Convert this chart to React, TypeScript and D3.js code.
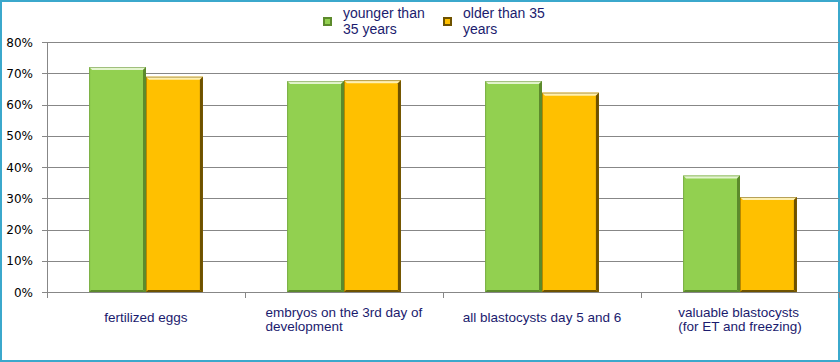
import React, { useRef, useEffect } from "react";
import * as d3 from "d3";

const categories = [
  "fertilized eggs",
  "embryos on the 3rd day of development",
  "all blastocysts day 5 and 6",
  "valuable blastocysts (for ET and freezing)",
];
const categoryLines = [
  ["fertilized eggs"],
  ["embryos on the 3rd day of", "development"],
  ["all blastocysts day 5 and 6"],
  ["valuable blastocysts", "(for ET and freezing)"],
];
const seriesNames = ["younger than 35 years", "older than 35 years"];
const legendLines = [
  ["younger than", "35 years"],
  ["older than 35", "years"],
];
const younger = [72, 67.5, 67.5, 37.3];
const older = [68.9, 67.8, 63.8, 30.4];
const yTicks = [0, 10, 20, 30, 40, 50, 60, 70, 80];

const fills = ["#92d050", "#ffc000"];
const lights = ["#e4f5cf", "#fff0b0"];
const darks = ["#5c8a2c", "#6e5200"];

export default function App() {
  const svgRef = useRef<SVGSVGElement>(null);

  useEffect(() => {
    document.body.style.margin = "0";
    if (!svgRef.current) return;
    const svg = d3.select(svgRef.current);
    svg.selectAll("*").remove();

    const width = 840;
    const height = 362;
    const left = 47;
    const right = 839;
    const top = 42;
    const bottom = 292;
    const font = "'Liberation Sans', Arial, sans-serif";
    const textColor = "#1b1b6e";

    svg.attr("width", width).attr("height", height);

    svg.append("rect")
      .attr("x", 1).attr("y", 1)
      .attr("width", width - 2).attr("height", height - 2)
      .attr("fill", "#fff")
      .attr("stroke", "#3ba8cc")
      .attr("stroke-width", 2);

    const x0 = d3.scaleBand().domain(categories).range([left, right]).padding(0);
    const x1 = d3.scaleBand().domain(seriesNames).range([0, x0.bandwidth()])
      .paddingInner(0).paddingOuter(0.74);
    const y = d3.scaleLinear().domain([0, 80]).range([bottom, top]);

    // Grid
    svg.append("g")
      .selectAll("line")
      .data(yTicks)
      .enter()
      .append("line")
      .attr("x1", left - 5)
      .attr("x2", right)
      .attr("y1", (d) => Math.round(y(d)) + 0.5)
      .attr("y2", (d) => Math.round(y(d)) + 0.5)
      .attr("stroke", "#878787")
      .attr("stroke-width", 1);

    // Y axis line
    svg.append("line")
      .attr("x1", left + 0.5).attr("x2", left + 0.5)
      .attr("y1", top).attr("y2", bottom)
      .attr("stroke", "#878787");

    // Category ticks
    svg.append("g")
      .selectAll("line")
      .data([...categories.map((c) => x0(c) || 0), right])
      .enter()
      .append("line")
      .attr("x1", (d) => Math.round(d) + 0.5)
      .attr("x2", (d) => Math.round(d) + 0.5)
      .attr("y1", bottom)
      .attr("y2", bottom + 6)
      .attr("stroke", "#878787");

    // Y labels
    svg.append("g")
      .selectAll("text")
      .data(yTicks)
      .enter()
      .append("text")
      .attr("x", 33)
      .attr("y", (d) => y(d) + 4.5)
      .attr("text-anchor", "end")
      .attr("font-family", "'DejaVu Sans', sans-serif")
      .attr("font-size", "12px")
      .attr("fill", "#000")
      .text((d) => `${d}%`);

    // Bars with bevel
    const seriesValues = [younger, older];
    const bev = 3;
    categories.forEach((cat, ci) => {
      seriesNames.forEach((s, si) => {
        const bx = (x0(cat) || 0) + (x1(s) || 0);
        const bw = x1.bandwidth();
        const by = y(seriesValues[si][ci]);
        const bh = bottom - by;
        const g = svg.append("g");
        g.append("rect")
          .attr("x", bx).attr("y", by)
          .attr("width", bw).attr("height", bh)
          .attr("fill", fills[si]);
        // top highlight
        g.append("polygon")
          .attr("points", `${bx},${by} ${bx + bw},${by} ${bx + bw - bev},${by + bev} ${bx + bev},${by + bev}`)
          .attr("fill", lights[si]);
        // right dark edge
        g.append("polygon")
          .attr("points", `${bx + bw},${by} ${bx + bw},${bottom} ${bx + bw - bev},${bottom - 2} ${bx + bw - bev},${by + bev}`)
          .attr("fill", darks[si]);
        // bottom dark edge
        g.append("polygon")
          .attr("points", `${bx},${bottom} ${bx + bw},${bottom} ${bx + bw - bev},${bottom - 2} ${bx + 2},${bottom - 2}`)
          .attr("fill", darks[si]);
        g.append("rect")
          .attr("x", bx + 0.5).attr("y", by + 0.5)
          .attr("width", bw - 1).attr("height", bh - 1)
          .attr("fill", "none")
          .attr("stroke", darks[si])
          .attr("stroke-opacity", 0.5);
      });
    });

    // Category labels
    categories.forEach((cat, ci) => {
      const lines = categoryLines[ci];
      const cx = (x0(cat) || 0) + x0.bandwidth() / 2;
      const t = svg.append("text")
        .attr("font-family", font)
        .attr("font-size", "13.5px")
        .attr("fill", textColor);
      const baseY = lines.length > 1 ? 317 : 322;
      lines.forEach((ln, li) => {
        t.append("tspan").attr("y", baseY + li * 14).attr("x", 0).text(ln);
      });
      const w = (t.node() as SVGTextElement).getBBox().width;
      t.selectAll("tspan").attr("x", cx - w / 2);
    });

    // Legend
    const legendX = [323, 443];
    seriesNames.forEach((s, si) => {
      const lx = legendX[si];
      svg.append("rect")
        .attr("x", lx).attr("y", 17)
        .attr("width", 9).attr("height", 9)
        .attr("fill", darks[si]);
      svg.append("rect")
        .attr("x", lx + 2).attr("y", 19)
        .attr("width", 5).attr("height", 5)
        .attr("fill", fills[si]);
      const t = svg.append("text")
        .attr("font-family", font)
        .attr("font-size", "14px")
        .attr("fill", textColor);
      legendLines[si].forEach((ln, li) => {
        t.append("tspan").attr("x", lx + 20).attr("y", 18 + li * 15.5).text(ln);
      });
    });
  }, []);

  return <svg ref={svgRef} style={{ display: "block" }} />;
}
